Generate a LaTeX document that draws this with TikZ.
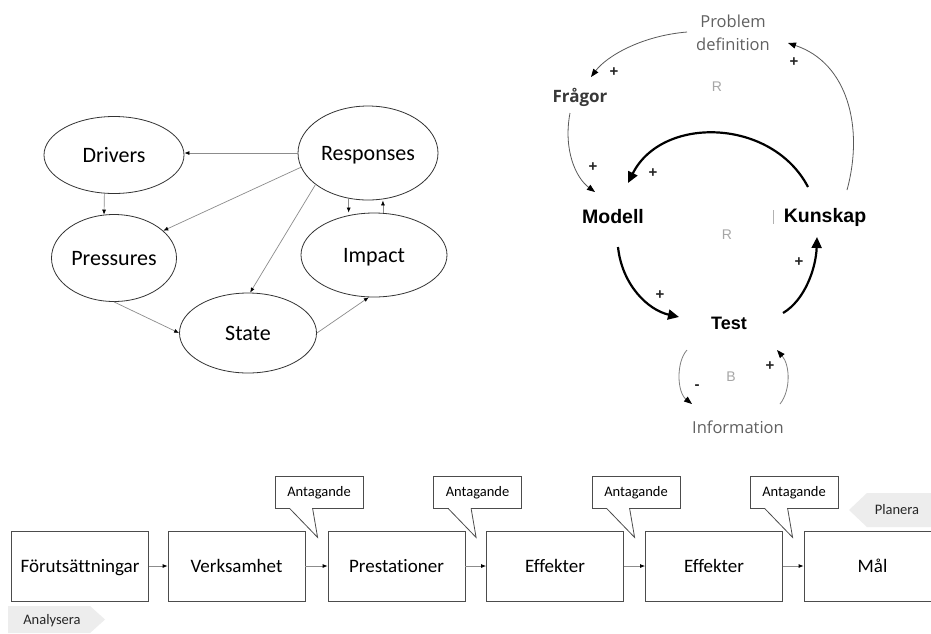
\documentclass[tikz,border=0pt]{standalone}
\usepackage{fontspec}
\setmainfont{Carlito}[Ligatures=NoCommon]
\newfontfamily\arialfont{Liberation Sans}
\newfontfamily\opensansfont{Open Sans}
\usetikzlibrary{shapes.geometric,arrows.meta,calc}

% speech-bubble label: name, centre x
\newcommand\antagande[2]{%
  \node[callbox] (#1) at (#2,492) {Antagande};
  \coordinate (#1tip) at ($(#1.south west)+(43,29)$);
  \draw[white, line width=1.8pt] ($(#1.south west)+(15.6,0)$) -- ($(#1.south west)+(37.4,0)$);
  \draw[callline] ($(#1.south west)+(15,0)$) -- (#1tip) -- ($(#1.south west)+(38,0)$);
}

\begin{document}
\begin{tikzpicture}[x=1pt,y=-1pt,
  ell/.style={draw=black!80, line width=0.8pt, ellipse, inner sep=0pt,
              text height=14pt, text depth=0pt,
              font=\fontsize{22}{26}\selectfont},
  garr/.style={draw=black!45, line width=0.7pt, -{Latex[length=5pt,width=4pt,color=black]}},
  kw/.style={font=\arialfont\bfseries\fontsize{19.5}{23}\selectfont, inner sep=1pt},
  kwt/.style={font=\arialfont\bfseries\fontsize{18}{22}\selectfont, inner sep=1pt},
  gtext/.style={text=black!62, font=\opensansfont\fontsize{16.5}{23}\selectfont, align=center, inner sep=1pt},
  fq/.style={text=black!78, font=\opensansfont\bfseries\fontsize{17}{20}\selectfont, inner sep=1pt},
  loopmark/.style={text=black!35, font=\arialfont\fontsize{14}{16}\selectfont},
  sign/.style={text=black!85, font=\arialfont\bfseries\fontsize{15}{17}\selectfont, inner sep=0pt},
  thickarc/.style={line width=2.2pt, draw=black, -{Triangle[length=11pt,width=10pt]}},
  thinarc/.style={line width=0.8pt, draw=black!65, -{Triangle[length=8pt,width=6pt,color=black]}},
  box/.style={draw=black!70, line width=0.8pt, minimum width=137pt, minimum height=70pt,
              inner sep=0pt, text height=12.5pt, text depth=0pt,
              font=\fontsize{19}{23}\selectfont},
  flow/.style={draw=black!45, line width=0.8pt, -{Latex[length=5pt,width=4pt,color=black]}},
  callbox/.style={draw=black!70, line width=0.8pt, fill=white, minimum width=88pt,
                  minimum height=32pt, inner sep=0pt, text height=9.5pt, text depth=0pt,
                  font=\fontsize{14.5}{17}\selectfont},
  callline/.style={draw=black!70, line width=0.8pt},
  band/.style={fill=black!7},
  bandtext/.style={font=\fontsize{14.5}{17}\selectfont, text=black!85}
]
\useasboundingbox (0,0) rectangle (931,633);
\fill[white] (0,0) rectangle (931,633);

% ---------- DPSIR diagram ----------
\node[ell, minimum width=140pt, minimum height=77pt] (drivers)   at (114,155) {Drivers};
\node[ell, minimum width=140pt, minimum height=94pt] (responses) at (368,153) {Responses};
\node[ell, minimum width=125pt, minimum height=87pt] (pressures) at (114,258) {Pressures};
\node[ell, minimum width=146pt, minimum height=84pt] (impact)    at (374,255) {Impact};
\node[ell, minimum width=137pt, minimum height=80pt] (state)     at (248,333) {State};

\draw[garr] (responses.west) -- (responses.west -| drivers.east);
\draw[garr] (drivers.256) -- (pressures.103);
\draw[garr] (responses.192) -- (pressures.29);
\draw[garr] (responses.211) -- (state.87);
\draw[garr] (responses.247) -- (responses.247 |- impact.north);
\draw[garr] (impact.78) -- (impact.78 |- responses.south);
\draw[garr] (pressures.south) -- (state.west);
\draw[garr] (state.east) -- (impact.263);

% ---------- learning loop ----------
\node[gtext] (probdef) at (733,33) {Problem\\definition};
\node[fq] (fragor) at (580,97) {Frågor};
\node[kw] (modell) at (613,217) {Modell};
\node[kw] (kunskap) at (825,217) {Kunskap};
\node[kwt] (test) at (729,323) {Test};
\node[gtext] (info) at (738,427) {Information};
\node[loopmark] (r1) at (717,87) {R};
\node[loopmark] (r2) at (727,235) {R};
\node[loopmark] (b1) at (731,377) {B};
\draw[black!30, line width=0.8pt] (773,210) -- (773,224);

\coordinate (pdA) at (687,32);   \coordinate (frA) at (591,77);
\coordinate (frB) at (570,113);  \coordinate (moA) at (595,192);
\coordinate (kuA) at (808,187);  \coordinate (moB) at (628,183);
\coordinate (moC) at (618,247);  \coordinate (teA) at (679,317);
\coordinate (teB) at (783,313);  \coordinate (kuB) at (817,237);
\coordinate (kuC) at (847,190);  \coordinate (pdB) at (788,43);
\coordinate (teC) at (687,350);  \coordinate (inA) at (692,404);
\coordinate (inB) at (780,404);  \coordinate (teD) at (777,350);

\draw[thinarc] (pdA) .. controls (640,36) and (606,57) .. (frA);
\draw[thinarc] (frB) .. controls (563,150) and (576,178) .. (moA);
\draw[thickarc] (kuA) .. controls (772,118) and (662,115) .. (moB);
\draw[thickarc] (moC) .. controls (622,285) and (648,310) .. (teA);
\draw[thickarc] (teB) .. controls (805,300) and (816,268) .. (kuB);
\draw[thinarc] (kuC) .. controls (864,128) and (848,63) .. (pdB);
\draw[thinarc, draw=black!50] (teC) .. controls (676,362) and (677,392) .. (inA);
\draw[thinarc, draw=black!50] (inB) .. controls (791,390) and (790,365) .. (teD);

\node[sign] at (614,72) {+};
\node[sign] at (593,167) {+};
\node[sign] at (653,173) {+};
\node[sign] at (660,295) {+};
\node[sign] at (799,262) {+};
\node[sign] at (794,62) {+};
\node[sign] at (770,366) {+};
\node[sign] at (697,387) {-};

% ---------- results chain ----------
\node[box] (c1) at (80,566)    {Förutsättningar};
\node[box] (c2) at (236.5,566) {Verksamhet};
\node[box] (c3) at (396.5,566) {Prestationer};
\node[box] (c4) at (555,566)   {Effekter};
\node[box] (c5) at (714,566)   {Effekter};
\node[box] (c6) at (872.5,566) {Mål};
\draw[flow] (c1) -- (c2);
\draw[flow] (c2) -- (c3);
\draw[flow] (c3) -- (c4);
\draw[flow] (c4) -- (c5);
\draw[flow] (c5) -- (c6);

\antagande{ant1}{319}
\antagande{ant2}{477.5}
\antagande{ant3}{636}
\antagande{ant4}{794}

\fill[band] (8,606) -- (90,606) -- (105,619.5) -- (90,633) -- (8,633) -- cycle;
\node[bandtext] (analysera) at (52,621) {Analysera};
\fill[band] (849,510) -- (867,493) -- (936,493) -- (936,527) -- (867,527) -- cycle;
\node[bandtext] (planera) at (897,510) {Planera};
\end{tikzpicture}
\end{document}
